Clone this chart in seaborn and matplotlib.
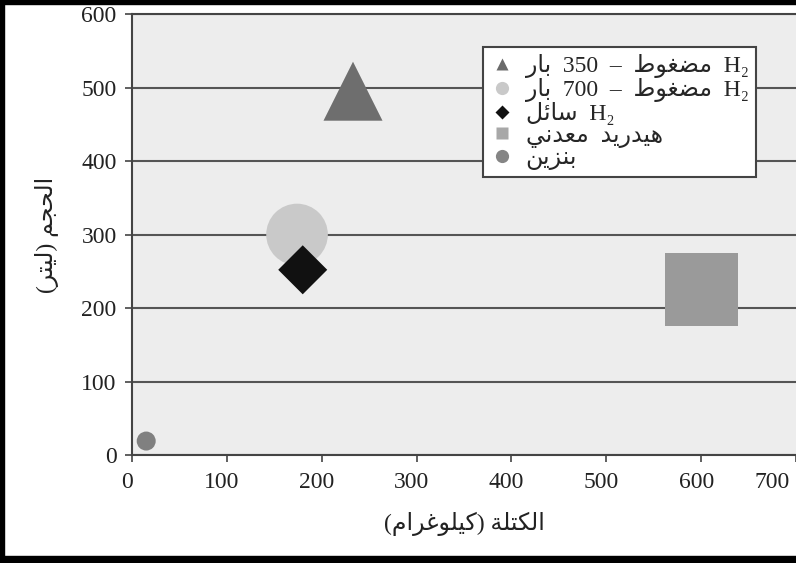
import matplotlib
matplotlib.use("Agg")
import matplotlib.pyplot as plt
import matplotlib.transforms as mtransforms
from matplotlib.lines import Line2D
from matplotlib.patches import Rectangle
import seaborn as sns
import pandas as pd

# storage options, Arabic text in logical order
labels = ["H₂ مضغوط – 350 بار", "H₂ مضغوط – 700 بار", "H₂ سائل", "هيدريد معدني", "بنزين"]
mass_kg = [233, 174, 180, 600, 15]
volume_l = [495, 300, 252, 225, 19]
x_ticks = [0, 100, 200, 300, 400, 500, 600, 700]
y_ticks = [0, 100, 200, 300, 400, 500, 600]
x_title = "الكتلة (كيلوغرام)"
y_title = "الحجم (ليتر)"

# marker styles per option
markers = ["^", "o", "D", "s", "o"]
sizes = [1806, 1970, 623, 2766, 187]
colors = ["#6e6e6e", "#c9c9c9", "#111111", "#9a9a9a", "#808080"]
leg_colors = ["#6a6a6a", "#c9c9c9", "#111111", "#a8a8a8", "#858585"]
leg_ms = [9, 9.5, 7.5, 9, 9.5]

# Arabic presentation forms: isolated, final, initial, medial
FORMS = {
    "ا": (0xFE8D, 0xFE8E, None, None),
    "ب": (0xFE8F, 0xFE90, 0xFE91, 0xFE92),
    "ة": (0xFE93, 0xFE94, None, None),
    "ت": (0xFE95, 0xFE96, 0xFE97, 0xFE98),
    "ج": (0xFE9D, 0xFE9E, 0xFE9F, 0xFEA0),
    "ح": (0xFEA1, 0xFEA2, 0xFEA3, 0xFEA4),
    "د": (0xFEA9, 0xFEAA, None, None),
    "ر": (0xFEAD, 0xFEAE, None, None),
    "ز": (0xFEAF, 0xFEB0, None, None),
    "س": (0xFEB1, 0xFEB2, 0xFEB3, 0xFEB4),
    "ض": (0xFEBD, 0xFEBE, 0xFEBF, 0xFEC0),
    "ط": (0xFEC1, 0xFEC2, 0xFEC3, 0xFEC4),
    "ع": (0xFEC9, 0xFECA, 0xFECB, 0xFECC),
    "غ": (0xFECD, 0xFECE, 0xFECF, 0xFED0),
    "ك": (0xFED9, 0xFEDA, 0xFEDB, 0xFEDC),
    "ل": (0xFEDD, 0xFEDE, 0xFEDF, 0xFEE0),
    "م": (0xFEE1, 0xFEE2, 0xFEE3, 0xFEE4),
    "ن": (0xFEE5, 0xFEE6, 0xFEE7, 0xFEE8),
    "ه": (0xFEE9, 0xFEEA, 0xFEEB, 0xFEEC),
    "و": (0xFEED, 0xFEEE, None, None),
    "ي": (0xFEF1, 0xFEF2, 0xFEF3, 0xFEF4),
    "ئ": (0xFE89, 0xFE8A, 0xFE8B, 0xFE8C),
}


def shape_word(w):
    out = []
    for i, ch in enumerate(w):
        if ch not in FORMS:
            out.append(ch)
            continue
        prev = w[i - 1] if i > 0 else ""
        nxt = w[i + 1] if i + 1 < len(w) else ""
        jp = prev in FORMS and FORMS[prev][2] is not None
        jn = nxt in FORMS and FORMS[ch][2] is not None
        iso, fin, ini, med = FORMS[ch]
        if jp and jn:
            c = med
        elif jp:
            c = fin
        elif jn:
            c = ini
        else:
            c = iso
        out.append(chr(c))
    return "".join(out)


def visual(text, sep=" "):
    # simple right-to-left layout: shape + reverse Arabic words, reverse word order
    words = []
    for tok in text.split(" "):
        if any(ch in FORMS for ch in tok):
            tok = shape_word(tok)[::-1].translate(str.maketrans("()", ")("))
        words.append(tok)
    return sep.join(words[::-1])


sns.set_style("ticks")
plt.rcParams["font.family"] = ["Liberation Serif", "DejaVu Sans"]

df = pd.DataFrame({"mass": mass_kg, "volume": volume_l, "option": labels})

fig = plt.figure(figsize=(7.96, 5.63), dpi=100)
ax = fig.add_axes([0.1658, 0.1918, 0.8342, 0.7833])
ax.set_facecolor("#ededed")

sns.scatterplot(
    data=df, x="mass", y="volume", hue="option", style="option", size="option",
    palette=dict(zip(labels, colors)), markers=dict(zip(labels, markers)),
    sizes=dict(zip(labels, sizes)), linewidth=0, legend=False, ax=ax, zorder=3,
)

ax.set_xlim(0, 700)
ax.set_ylim(0, 600)
ax.set_xticks(x_ticks)
ax.set_yticks(y_ticks)
ax.set_axisbelow(True)
ax.yaxis.grid(True, color="#555555", linewidth=1.5)
ax.xaxis.grid(False)
for side in ["left", "bottom", "top"]:
    ax.spines[side].set_color("#444444")
    ax.spines[side].set_linewidth(1.5)
ax.spines["right"].set_visible(False)
ax.tick_params(direction="out", length=5, width=1.2, color="#444444", labelsize=17,
               labelcolor="#222222")
ax.tick_params(axis="y", pad=6)
ax.tick_params(axis="x", pad=7)

# nudge x tick labels left, the last one sits inside the figure
for i, lab in enumerate(ax.get_xticklabels()):
    dx = -24 if i == len(x_ticks) - 1 else -5
    lab.set_transform(lab.get_transform() + mtransforms.ScaledTranslation(dx / 100, 0, fig.dpi_scale_trans))

ax.set_xlabel(visual(x_title), fontsize=17, labelpad=14, color="#222222")
ax.set_ylabel(visual(y_title), fontsize=17, labelpad=16, color="#222222")

handles = [Line2D([], [], ls="none", marker=m, ms=ms, color=c, mec="none")
           for m, ms, c in zip(markers, leg_ms, leg_colors)]
leg = ax.legend(handles, [visual(l, sep="  ") for l in labels], loc="upper left",
                bbox_to_anchor=(0.529, 0.925), borderaxespad=0, frameon=True,
                fancybox=False, edgecolor="#444444", framealpha=1, fontsize=17,
                handletextpad=0.5, labelspacing=0.0, borderpad=0.3, handlelength=1.0)
leg.get_frame().set_linewidth(1.5)
leg.set_zorder(5)

# black scan border
for rect in [(0, 1 - 4 / 563, 1, 4 / 563), (0, 0, 1, 7 / 563), (0, 0, 4 / 796, 1)]:
    fig.add_artist(Rectangle(rect[:2], rect[2], rect[3], transform=fig.transFigure,
                             color="black", zorder=10))

fig.savefig("out.png", dpi=100)
